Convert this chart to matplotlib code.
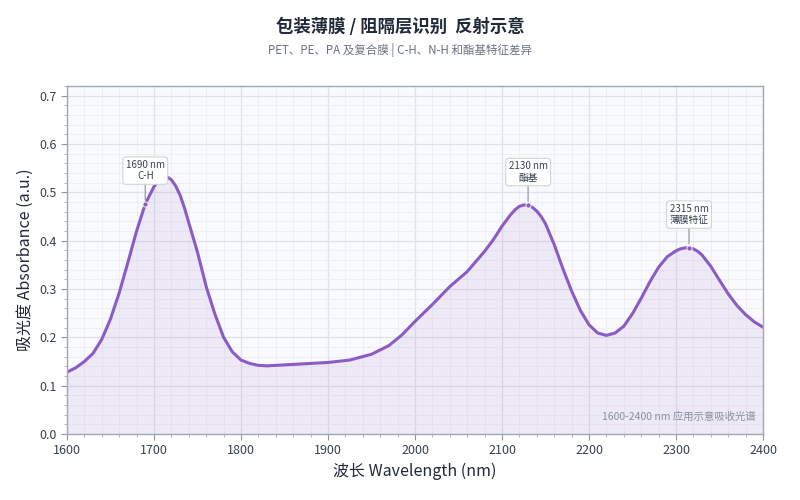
import matplotlib.pyplot as plt
from matplotlib.ticker import MultipleLocator

plt.rcParams['font.family'] = ['Noto Sans CJK SC', 'DejaVu Sans']

# wavelength (nm) and absorbance
wavelength = [1600, 1610, 1620, 1630, 1640, 1650, 1660, 1670, 1680, 1690,
              1700, 1705, 1710, 1715, 1720, 1725, 1730, 1735, 1740, 1750, 1760, 1770, 1780,
              1790, 1800, 1810, 1820, 1830, 1850, 1870, 1900, 1925, 1950,
              1970, 1985, 2000, 2020, 2040, 2060, 2080, 2090, 2100, 2110,
              2115, 2120, 2125, 2130, 2135, 2140, 2145, 2150, 2160, 2170, 2180, 2190, 2200,
              2210, 2220, 2230, 2240, 2250, 2260, 2270, 2280, 2290, 2300,
              2305, 2310, 2315, 2320, 2325, 2330, 2340, 2350, 2360, 2370, 2380, 2390, 2400]
absorbance = [0.128, 0.137, 0.150, 0.167, 0.196, 0.238, 0.292, 0.355, 0.420, 0.476,
              0.512, 0.524, 0.530, 0.532, 0.526, 0.513, 0.494, 0.468, 0.437, 0.376, 0.305, 0.248, 0.200,
              0.170, 0.153, 0.146, 0.142, 0.141, 0.143, 0.145, 0.148, 0.153, 0.165,
              0.183, 0.205, 0.233, 0.268, 0.305, 0.336, 0.378, 0.402, 0.430, 0.454,
              0.464, 0.471, 0.474, 0.473, 0.469, 0.461, 0.450, 0.435, 0.392, 0.342, 0.296, 0.256, 0.226,
              0.209, 0.204, 0.209, 0.223, 0.249, 0.281, 0.315, 0.345, 0.367, 0.379,
              0.383, 0.385, 0.385, 0.383, 0.378, 0.370, 0.347, 0.318, 0.290, 0.266, 0.247, 0.232, 0.221]

peak_x = [1690, 2130, 2315]
peak_y = [0.476, 0.473, 0.385]
peak_labels = ['1690 nm\nC-H', '2130 nm\n酯基', '2315 nm\n薄膜特征']

line_color = '#8b5cc6'

fig = plt.figure(figsize=(8, 5), dpi=100)
ax = fig.add_axes([0.08375, 0.132, 0.87, 0.696])
ax.set_facecolor('#f9fafd')

ax.fill_between(wavelength, absorbance, 0, color=line_color, alpha=0.1, linewidth=0)
ax.plot(wavelength, absorbance, color=line_color, linewidth=2.2,
        solid_capstyle='round', solid_joinstyle='round')
ax.scatter(peak_x, peak_y, s=14, color=line_color, zorder=5, edgecolors='white', linewidths=0.6)

for x, y, lab in zip(peak_x, peak_y, peak_labels):
    ax.annotate(lab, xy=(x, y), xytext=(0, 24), textcoords='offset points',
                ha='center', va='center', fontsize=7, color='#374151',
                bbox=dict(boxstyle='round,pad=0.3', fc='white', ec='#d1d5db', lw=0.8),
                arrowprops=dict(arrowstyle='-', color='#9ca3af', lw=1.0, shrinkA=0, shrinkB=3),
                zorder=6)

ax.set_xlim(1600, 2400)
ax.set_ylim(0, 0.72)
ax.xaxis.set_major_locator(MultipleLocator(100))
ax.xaxis.set_minor_locator(MultipleLocator(20))
ax.yaxis.set_major_locator(MultipleLocator(0.1))
ax.yaxis.set_minor_locator(MultipleLocator(0.02))
ax.yaxis.set_major_formatter(plt.FormatStrFormatter('%.1f'))

ax.grid(which='major', color='#dfe2ea', linewidth=0.9)
ax.grid(which='minor', color='#eceef4', linewidth=0.6)
ax.set_axisbelow(True)

for s in ax.spines.values():
    s.set_color('#a3a8b8')
    s.set_linewidth(1.0)
ax.tick_params(which='major', length=4, color='#8f94a3', labelsize=9, labelcolor='#374151')
ax.tick_params(which='minor', length=2, color='#a3a8b8')

ax.set_xlabel('波长 Wavelength (nm)', fontsize=11.5, color='#1f2937', labelpad=4)
ax.set_ylabel('吸光度 Absorbance (a.u.)', fontsize=11.5, color='#1f2937', labelpad=4)

ax.text(0.99, 0.035, '1600-2400 nm 应用示意吸收光谱', transform=ax.transAxes,
        ha='right', va='bottom', fontsize=7.5, color='#8b909e')

fig.text(0.5, 0.947, '包装薄膜 / 阻隔层识别  反射示意', ha='center', va='center',
         fontsize=12.5, fontweight='bold', color='#1f2937')
fig.text(0.5, 0.9, 'PET、PE、PA 及复合膜 | C-H、N-H 和酯基特征差异', ha='center', va='center',
         fontsize=8.3, color='#6b7280')

fig.savefig('out.png', dpi=100)
